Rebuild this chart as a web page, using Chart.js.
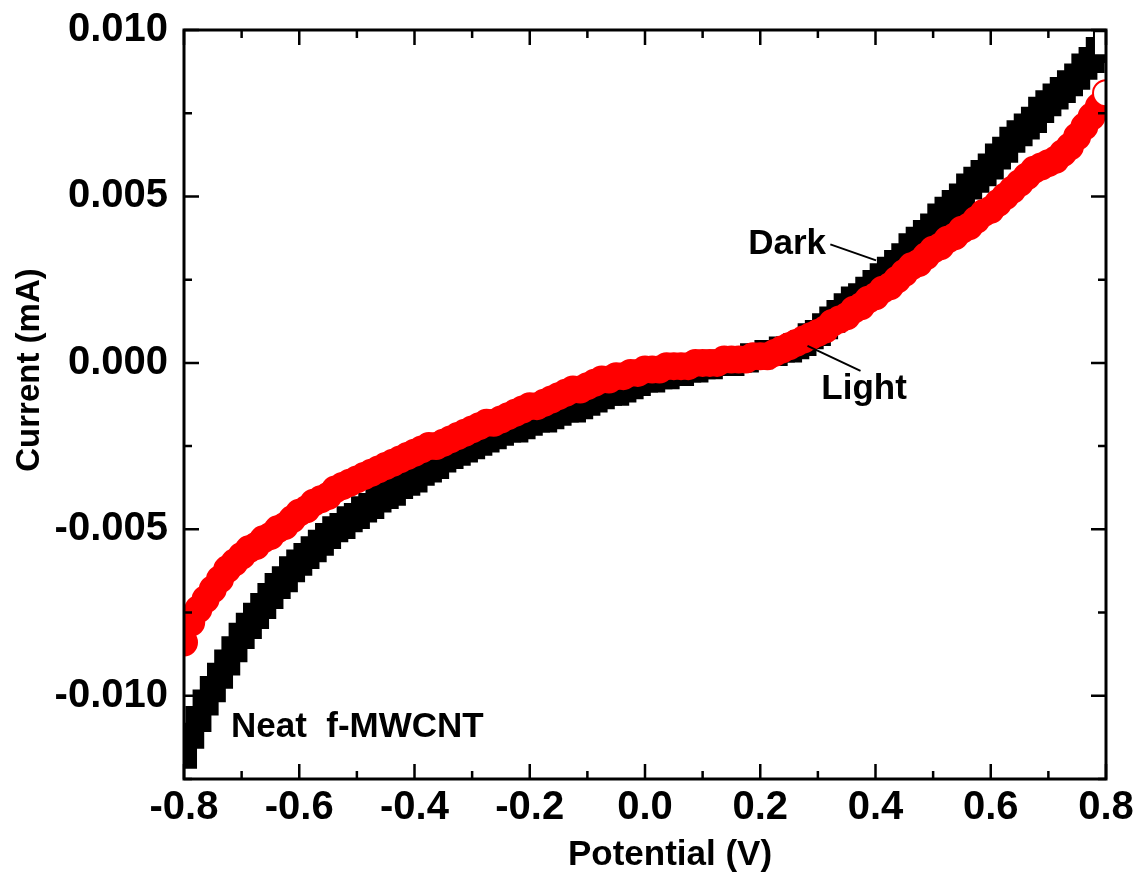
<!DOCTYPE html>
<html>
<head>
<meta charset="utf-8">
<script src="https://cdn.jsdelivr.net/npm/chart.js@4.4.0/dist/chart.umd.min.js"></script>
<style>
  html, body { margin:0; padding:0; background:#fff; }
  #wrap { width:1139px; height:879px; }
</style>
</head>
<body>
<div id="wrap"><canvas id="iv__graph"></canvas></div>
<script>
// I-V curve, neat f-MWCNT, dark vs light

const potential = [
  -0.8000,-0.7875,-0.7750,-0.7625,-0.7500,-0.7375,-0.7250,-0.7125,-0.7000,-0.6875,-0.6750,-0.6625,-0.6500,-0.6375,-0.6250,-0.6125,
  -0.6000,-0.5875,-0.5750,-0.5625,-0.5500,-0.5375,-0.5250,-0.5125,-0.5000,-0.4875,-0.4750,-0.4625,-0.4500,-0.4375,-0.4250,-0.4125,
  -0.4000,-0.3875,-0.3750,-0.3625,-0.3500,-0.3375,-0.3250,-0.3125,-0.3000,-0.2875,-0.2750,-0.2625,-0.2500,-0.2375,-0.2250,-0.2125,
  -0.2000,-0.1875,-0.1750,-0.1625,-0.1500,-0.1375,-0.1250,-0.1125,-0.1000,-0.0875,-0.0750,-0.0625,-0.0500,-0.0375,-0.0250,-0.0125,
  0.0000,0.0125,0.0250,0.0375,0.0500,0.0625,0.0750,0.0875,0.1000,0.1125,0.1250,0.1375,0.1500,0.1625,0.1750,0.1875,
  0.2000,0.2125,0.2250,0.2375,0.2500,0.2625,0.2750,0.2875,0.3000,0.3125,0.3250,0.3375,0.3500,0.3625,0.3750,0.3875,
  0.4000,0.4125,0.4250,0.4375,0.4500,0.4625,0.4750,0.4875,0.5000,0.5125,0.5250,0.5375,0.5500,0.5625,0.5750,0.5875,
  0.6000,0.6125,0.6250,0.6375,0.6500,0.6625,0.6750,0.6875,0.7000,0.7125,0.7250,0.7375,0.7500,0.7625,0.7750,0.7875,
  0.8000];

const darkCurrent = [
  -0.0118,-0.0112,-0.0107,-0.0102,-0.0098,-0.0094,-0.0090,-0.0086,-0.0082,-0.0079,-0.0076,-0.0073,-0.0070,-0.0067,-0.0065,-0.0062,
  -0.0060,-0.0058,-0.0056,-0.0054,-0.0052,-0.0050,-0.0049,-0.0047,-0.0046,-0.0044,-0.0043,-0.0041,-0.0040,-0.0039,-0.0037,-0.0036,
  -0.0035,-0.0033,-0.0032,-0.0031,-0.0029,-0.0028,-0.0027,-0.0026,-0.0025,-0.0024,-0.0023,-0.0022,-0.0021,-0.0020,-0.0020,-0.0019,
  -0.0018,-0.0017,-0.0017,-0.0016,-0.0015,-0.0014,-0.0014,-0.0013,-0.0012,-0.0011,-0.0010,-0.0009,-0.0009,-0.0008,-0.0007,-0.0006,
  -0.0005,-0.0005,-0.0004,-0.0004,-0.0003,-0.0003,-0.0002,-0.0002,-0.0001,-0.0001,0.0000,0.0000,0.0000,0.0001,0.0001,0.0002,
  0.0002,0.0003,0.0003,0.0004,0.0004,0.0005,0.0006,0.0008,0.0009,0.0011,0.0013,0.0015,0.0017,0.0019,0.0020,0.0022,
  0.0024,0.0026,0.0028,0.0030,0.0032,0.0035,0.0037,0.0039,0.0041,0.0044,0.0046,0.0048,0.0050,0.0053,0.0055,0.0057,
  0.0059,0.0062,0.0064,0.0067,0.0069,0.0071,0.0073,0.0076,0.0078,0.0080,0.0082,0.0084,0.0086,0.0089,0.0091,0.0094,
  0.0096];

const lightCurrent = [
  -0.0084,-0.0078,-0.0074,-0.0071,-0.0068,-0.0065,-0.0062,-0.0060,-0.0058,-0.0056,-0.0055,-0.0053,-0.0052,-0.0050,-0.0049,-0.0047,
  -0.0045,-0.0044,-0.0042,-0.0041,-0.0040,-0.0038,-0.0037,-0.0036,-0.0035,-0.0034,-0.0033,-0.0032,-0.0031,-0.0030,-0.0029,-0.0028,
  -0.0027,-0.0026,-0.0025,-0.0025,-0.0024,-0.0023,-0.0022,-0.0021,-0.0020,-0.0019,-0.0018,-0.0018,-0.0017,-0.0016,-0.0015,-0.0014,
  -0.0013,-0.0013,-0.0012,-0.0011,-0.0010,-0.0009,-0.0008,-0.0008,-0.0007,-0.0006,-0.0005,-0.0005,-0.0004,-0.0004,-0.0003,-0.0003,
  -0.0002,-0.0002,-0.0002,-0.0001,-0.0001,-0.0001,-0.0001,0.0000,0.0000,0.0000,0.0000,0.0001,0.0001,0.0001,0.0001,0.0002,
  0.0002,0.0002,0.0003,0.0004,0.0005,0.0006,0.0007,0.0008,0.0009,0.0010,0.0012,0.0013,0.0014,0.0016,0.0017,0.0019,
  0.0020,0.0022,0.0023,0.0025,0.0027,0.0029,0.0030,0.0032,0.0034,0.0035,0.0037,0.0038,0.0040,0.0041,0.0043,0.0045,
  0.0046,0.0048,0.0050,0.0052,0.0054,0.0056,0.0058,0.0059,0.0060,0.0061,0.0063,0.0065,0.0068,0.0071,0.0074,0.0077,
  0.0081];

const xTicks = [-0.8,-0.6,-0.4,-0.2,0.0,0.2,0.4,0.6,0.8];
const xMinor = [-0.7,-0.5,-0.3,-0.1,0.1,0.3,0.5,0.7];
const yTicks = [-0.010,-0.005,0.000,0.005,0.010];
const yMinor = [-0.0125,-0.0075,-0.0025,0.0025,0.0075];

const FONT = "'Liberation Sans', Arial, sans-serif";

function toPoints(ys) {
  return potential.map((v, i) => ({x: v, y: ys[i]}));
}

// last point of each sweep stays open, like the original
function fillFor(color) {
  return ctx => (ctx.dataIndex === potential.length - 1 ? '#ffffff' : color);
}

// frame + inward ticks on all four sides, titles and the text labels
const framePlugin = {
  id: 'frame',
  afterDraw(chart) {
    const ctx = chart.ctx;
    const a = chart.chartArea;
    const xs = chart.scales.x, ys = chart.scales.y;
    ctx.save();
    ctx.strokeStyle = '#000';
    ctx.lineWidth = 3;
    ctx.strokeRect(a.left, a.top, a.right - a.left, a.bottom - a.top);
    ctx.lineWidth = 2.5;
    const tickX = (vals, len) => {
      vals.forEach(v => {
        const px = xs.getPixelForValue(v);
        ctx.beginPath();
        ctx.moveTo(px, a.bottom); ctx.lineTo(px, a.bottom - len);
        ctx.moveTo(px, a.top); ctx.lineTo(px, a.top + len);
        ctx.stroke();
      });
    };
    const tickY = (vals, len) => {
      vals.forEach(v => {
        const py = ys.getPixelForValue(v);
        ctx.beginPath();
        ctx.moveTo(a.left, py); ctx.lineTo(a.left + len, py);
        ctx.moveTo(a.right, py); ctx.lineTo(a.right - len, py);
        ctx.stroke();
      });
    };
    tickX(xTicks, 15); tickX(xMinor, 8);
    tickY(yTicks, 15); tickY(yMinor, 8);

    ctx.fillStyle = '#000';
    ctx.textBaseline = 'middle';
    ctx.textAlign = 'center';

    // axis titles
    ctx.font = 'bold 35px ' + FONT;
    ctx.fillText('Potential (V)', 670, 855);
    ctx.save();
    ctx.translate(30, 370);
    ctx.rotate(-Math.PI / 2);
    ctx.font = 'bold 33px ' + FONT;
    ctx.fillText('Current (mA)', 0, 0);
    ctx.restore();

    // labels inside the plot
    ctx.font = 'bold 35px ' + FONT;
    ctx.textAlign = 'left';
    ctx.fillText('Dark', xs.getPixelForValue(0.179), ys.getPixelForValue(0.00356));
    ctx.fillText('Light', xs.getPixelForValue(0.306), ys.getPixelForValue(-0.00078));
    ctx.fillText('Neat  f-MWCNT', xs.getPixelForValue(-0.7185), ys.getPixelForValue(-0.01096));
    ctx.lineWidth = 2;
    ctx.beginPath();
    ctx.moveTo(xs.getPixelForValue(0.3216), ys.getPixelForValue(0.00356));
    ctx.lineTo(xs.getPixelForValue(0.401), ys.getPixelForValue(0.00308));
    ctx.moveTo(xs.getPixelForValue(0.282), ys.getPixelForValue(0.00051));
    ctx.lineTo(xs.getPixelForValue(0.374), ys.getPixelForValue(-0.00024));
    ctx.stroke();
    ctx.restore();
  }
};

const data1 = {
  datasets: [{
    label: 'Light',
    data: toPoints(lightCurrent),
    pointStyle: 'circle',
    pointRadius: 13,
    borderColor: '#ff0000',
    backgroundColor: fillFor('#ff0000'),
    pointBackgroundColor: fillFor('#ff0000'),
    borderWidth: 2,
    clip: 0
  }, {
    label: 'Dark',
    data: toPoints(darkCurrent),
    pointStyle: 'rect',
    pointRadius: 17,
    borderColor: '#000000',
    backgroundColor: fillFor('#000000'),
    pointBackgroundColor: fillFor('#000000'),
    borderWidth: 2,
    clip: 0
  }]
};

const config1 = {
  type: 'scatter',
  data: data1,
  options: {
    responsive: true,
    maintainAspectRatio: false,
    animation: false,
    events: [],
    layout: { padding: { top: 30, right: 33, left: 0, bottom: 0 } },
    plugins: { legend: { display: false }, tooltip: { enabled: false } },
    scales: {
      x: {
        type: 'linear',
        min: -0.8, max: 0.8,
        afterBuildTicks: s => { s.ticks = xTicks.map(v => ({value: v})); },
        afterFit: s => { s.height = 100; },
        grid: { display: false, drawTicks: false },
        border: { display: false },
        ticks: {
          padding: 5,
          color: '#000',
          font: { family: FONT, size: 40, weight: 'bold' },
          callback: v => v.toFixed(1),
          maxRotation: 0, autoSkip: false
        }
      },
      y: {
        type: 'linear',
        min: -0.0125, max: 0.010,
        afterBuildTicks: s => { s.ticks = yTicks.map(v => ({value: v})); },
        afterFit: s => { s.width = 184; },
        grid: { display: false, drawTicks: false },
        border: { display: false },
        ticks: {
          padding: 16,
          color: '#000',
          font: { family: FONT, size: 40, weight: 'bold', lineHeight: 0.5 },
          callback: v => v.toFixed(3),
          autoSkip: false
        }
      }
    }
  },
  plugins: [framePlugin]
};

const myChar1 = new Chart(document.getElementById('iv__graph'), config1);
</script>
</body>
</html>
